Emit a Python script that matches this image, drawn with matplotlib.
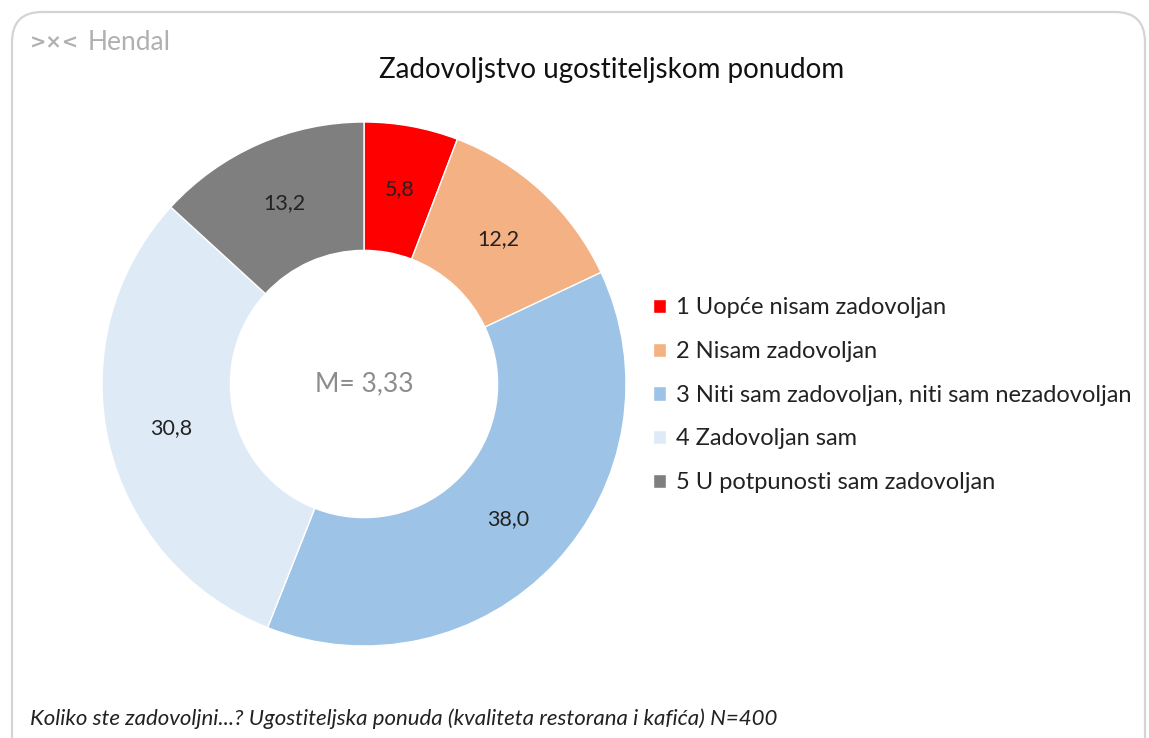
import matplotlib
matplotlib.use("Agg")
import matplotlib.pyplot as plt
from matplotlib.patches import FancyBboxPatch

categories = ["1 Uopće nisam zadovoljan", "2 Nisam zadovoljan",
              "3 Niti sam zadovoljan, niti sam nezadovoljan",
              "4 Zadovoljan sam", "5 U potpunosti sam zadovoljan"]
values = [5.8, 12.2, 38.0, 30.8, 13.2]
colors = ["#FF0000", "#F4B183", "#9DC3E6", "#DEEBF7", "#7F7F7F"]
title = "Zadovoljstvo ugostiteljskom ponudom"
center_text = "M= 3,33"
footer = "Koliko ste zadovoljni...? Ugostiteljska ponuda (kvaliteta restorana i kafića) N=400"

plt.rcParams['font.family'] = ['Lato', 'DejaVu Sans']

W, H = 1149, 738
fig = plt.figure(figsize=(W/100, H/100), dpi=100)
fig.patch.set_facecolor("white")

# rounded frame
frame = FancyBboxPatch((0.12, -0.5), 11.33, 7.76,
                       boxstyle="round,pad=0,rounding_size=0.3",
                       transform=fig.dpi_scale_trans, facecolor="none",
                       edgecolor="#d4d4d4", linewidth=1.6, zorder=-5)
fig.patches.append(frame)

cx, cy, r = 364, 384, 262
ax = fig.add_axes([(cx - r)/W, (H - cy - r)/H, 2*r/W, 2*r/H])
ax.patch.set_alpha(0)
wedges, texts, autotexts = ax.pie(
    values, colors=colors, startangle=90, counterclock=False, radius=1,
    wedgeprops=dict(width=0.49, edgecolor="white", linewidth=1),
    autopct=lambda p: f"{p:.1f}".replace(".", ","), pctdistance=0.755,
    textprops=dict(fontsize=15.5, color="#222222"))
ax.set_xlim(-1, 1)
ax.set_ylim(-1, 1)
ax.set_aspect("equal")
ax.axis("off")
ax.text(0, 0, center_text, ha="center", va="center", fontsize=19, color="#8c8c8c")

fig.text(612/W, 1 - 70/H, title, ha="center", va="center", fontsize=20, color="#111111")

leg = fig.legend(wedges, categories, loc="upper left",
                 bbox_to_anchor=(644/W, 1 - 288/H), frameon=False,
                 fontsize=17, handlelength=0.55, handleheight=0.55,
                 handletextpad=0.4, labelspacing=0.96, borderaxespad=0)
for t in leg.get_texts():
    t.set_color("#222222")

fig.text(30/W, 1 - 719/H, footer, ha="left", va="center", fontsize=16,
         style="italic", color="#222222")

# logo
fig.text(30/W, 1 - 43/H, ">×<", ha="left", va="center", fontsize=14,
         fontweight="bold", color="#b0b0b0", family=["DejaVu Sans"])
fig.text(88/W, 1 - 43/H, "Hendal", ha="left", va="center", fontsize=19,
         color="#b0b0b0")

fig.savefig("out.png", dpi=100)
